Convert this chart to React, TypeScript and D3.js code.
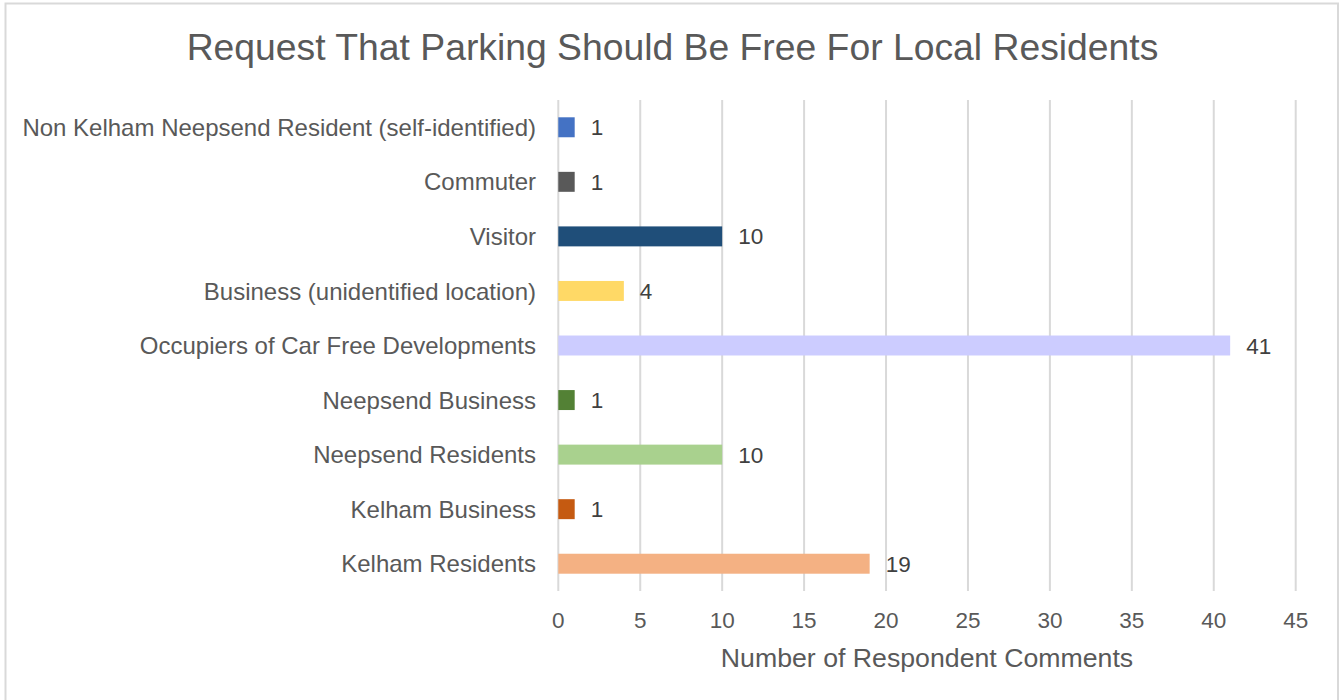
import React from "react";
import * as d3 from "d3";

const categories = [
  "Non Kelham Neepsend Resident (self-identified)",
  "Commuter",
  "Visitor",
  "Business (unidentified location)",
  "Occupiers of Car Free Developments",
  "Neepsend Business",
  "Neepsend Residents",
  "Kelham Business",
  "Kelham Residents",
];
const values = [1, 1, 10, 4, 41, 1, 10, 1, 19];
const colors = [
  "#4472C4",
  "#595959",
  "#1F4E79",
  "#FFD966",
  "#CCCCFF",
  "#538135",
  "#A9D18E",
  "#C55A11",
  "#F4B183",
];
const xTicks = [0, 5, 10, 15, 20, 25, 30, 35, 40, 45];
const title = "Request That Parking Should Be Free For Local Residents";
const xTitle = "Number of Respondent Comments";

export default function App() {
  const W = 1344;
  const H = 700;
  const left = 558.3;
  const right = 1295.7;
  const top = 100;
  const bottom = 591;
  const x = d3.scaleLinear().domain([0, 45]).range([left, right]);
  const y = d3.scaleBand<string>().domain(categories).range([top, bottom]).paddingInner(0.634).paddingOuter(0.317);
  const font = "'Liberation Sans', Arial, sans-serif";
  const textColor = "#595959";
  return (
    <svg width={W} height={H} style={{ position: "absolute", left: 0, top: 0, fontFamily: font }}>
      <rect x={0} y={0} width={W} height={H} fill="#fff" />
      <rect x={5.5} y={3.5} width={1332.5} height={720} fill="#fff" stroke="#d9d9d9" strokeWidth={2} />
      <text x={672.5} y={60} textAnchor="middle" fontSize={37.3} fill={textColor}>{title}</text>
      {xTicks.map((t) => (
        <g key={t}>
          <line x1={x(t)} x2={x(t)} y1={top} y2={bottom} stroke="#d9d9d9" strokeWidth={2} />
          <text x={x(t)} y={628} textAnchor="middle" fontSize={22.5} fill={textColor}>{t}</text>
        </g>
      ))}
      {categories.map((c, i) => {
        const yc = (y(c) as number) + y.bandwidth() / 2;
        return (
          <g key={c}>
            <rect x={x(0)} y={y(c)} width={x(values[i]) - x(0)} height={y.bandwidth()} fill={colors[i]} />
            <text x={536} y={yc} dy="0.36em" textAnchor="end" fontSize={24} fill={textColor}>{c}</text>
            <text x={x(values[i]) + 16} y={yc} dy="0.36em" textAnchor="start" fontSize={22.5} fill="#404040">{values[i]}</text>
          </g>
        );
      })}
      <text x={(left + right) / 2} y={667} textAnchor="middle" fontSize={26.7} fill={textColor}>{xTitle}</text>
    </svg>
  );
}
